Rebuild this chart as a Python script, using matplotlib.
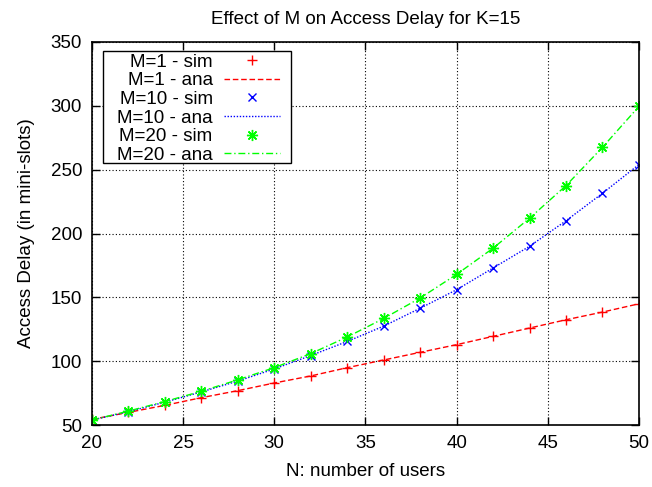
import numpy as np
import matplotlib.pyplot as plt
from matplotlib.patches import Rectangle

plt.rcParams['font.family'] = ['Liberation Sans', 'DejaVu Sans']

# number of users
n_users = [20, 22, 24, 26, 28, 30, 32, 34, 36, 38, 40, 42, 44, 46, 48, 50]

# access delay (mini-slots), simulation and analysis
m1_sim = [54.5, 60, 65.5, 71.5, 77, 83, 88.5, 95, 101, 107, 113, 119.5, 126, 132.5, 138.5, 145]
m1_ana = [54.5, 60, 65.5, 71.5, 77, 83, 88.5, 95, 101, 107, 113, 119.5, 126, 132.5, 138.5, 145]
m10_sim = [54, 60.5, 68, 76, 84.5, 94, 104.5, 115.5, 127.5, 141.5, 156, 173, 190, 210, 231.5, 254]
m10_ana = [54, 60.5, 68, 76, 84.5, 94, 104.5, 115.5, 127.5, 141.5, 156, 173, 190, 210, 231.5, 254]
m20_sim = [54, 61, 68.5, 76.5, 85.5, 95, 106, 119, 133.5, 149.5, 168, 188.5, 212, 237.5, 267.5, 299.5]
m20_ana = [54, 61, 68.5, 76.5, 85.5, 95, 106, 119, 133.5, 149.5, 168, 188.5, 212, 237.5, 267.5, 299.5]

fs = 13.5

fig = plt.figure(figsize=(6.52, 4.87), dpi=100)
ax = fig.add_axes([0.141, 0.127, 0.839, 0.787])

ax.plot(n_users, m1_sim, ls='none', marker='+', ms=7, mew=1, color='#ff0000', label='M=1 - sim')
ax.plot(n_users, m1_ana, ls=(0, (4, 2)), lw=1, color='#ff0000', label='M=1 - ana')
ax.plot(n_users, m10_sim, ls='none', marker='x', ms=6, mew=1, color='#0000ff', label='M=10 - sim')
ax.plot(n_users, m10_ana, ls=(0, (1, 1.2)), lw=1, color='#0000ff', label='M=10 - ana')
ax.plot(n_users, m20_sim, ls='none', marker=(8, 2, 0), ms=8, mew=1, color='#00ff00', label='M=20 - sim')
ax.plot(n_users, m20_ana, ls=(0, (5, 2, 1, 2)), lw=1, color='#00ff00', label='M=20 - ana')

ax.set_xlim(20, 50)
ax.set_ylim(50, 350)
ax.set_xticks(np.arange(20, 51, 5))
ax.set_yticks(np.arange(50, 351, 50))
ax.grid(True, color='black', ls=(0, (1, 2)), lw=0.8)
ax.tick_params(direction='in', length=6, width=1, top=True, right=True, labelsize=fs, pad=7)
for s in ax.spines.values():
    s.set_linewidth(1.2)

ax.set_title('Effect of M on Access Delay for K=15', fontsize=fs, pad=13)
ax.set_xlabel('N: number of users', fontsize=fs, labelpad=8)
ax.set_ylabel('Access Delay (in mini-slots)', fontsize=fs, labelpad=11)

# key box drawn separately so its padding can be wider than the row spacing
ax.add_patch(Rectangle((0.020, 0.684), 0.344, 0.2925, transform=ax.transAxes,
                       facecolor='white', edgecolor='black', lw=1, zorder=4))
leg = ax.legend(loc='upper right', bbox_to_anchor=(0.351, 0.979), borderaxespad=0,
                markerfirst=False, frameon=False,
                fontsize=fs, handlelength=3.0, handletextpad=0.6, labelspacing=0.08,
                borderpad=0.2)
leg.set_zorder(5)

fig.savefig('out.png', dpi=100)
